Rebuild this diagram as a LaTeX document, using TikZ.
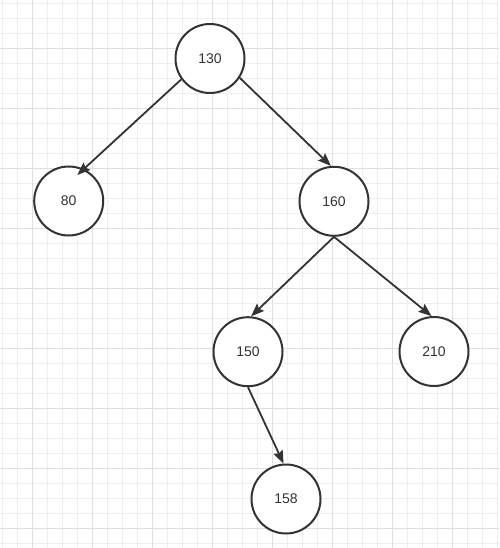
\documentclass[tikz,border=0pt]{standalone}
\usepackage{fontspec}
\setmainfont{Liberation Sans}
\usetikzlibrary{arrows.meta,calc}
\definecolor{minorgrid}{HTML}{EEEEEE}
\definecolor{majorgrid}{HTML}{DFDFDF}
\definecolor{ink}{HTML}{333333}
\begin{document}
\begin{tikzpicture}[x=1pt,y=-1pt,
  treenode/.style={circle,draw=ink,line width=2pt,minimum size=69pt,inner sep=0pt,
    text=ink,font=\fontsize{14}{16}\selectfont,fill=white},
  edge/.style={draw=ink,line width=1.8pt,-{Stealth[length=13pt,width=10pt,inset=2pt]}}]
\useasboundingbox (0,0) rectangle (499,548);
\fill[white] (0,0) rectangle (499,548);
% grid
\foreach \i in {0,...,33} {
  \draw[minorgrid,line width=1pt] ({2.3+15*\i},0) -- ({2.3+15*\i},548);
}
\foreach \i in {0,...,36} {
  \draw[minorgrid,line width=1pt] (0,{3.3+15*\i}) -- (499,{3.3+15*\i});
}
\foreach \i in {0,...,7} {
  \draw[majorgrid,line width=1pt] ({32.3+60*\i},0) -- ({32.3+60*\i},548);
}
\foreach \i in {0,...,8} {
  \draw[majorgrid,line width=1pt] (0,{48.3+60*\i}) -- (499,{48.3+60*\i});
}
% nodes
\node[treenode] (n130) at (210,58.5) {130};
\node[treenode] (n80) at (68.7,201) {80};
\node[treenode] (n160) at (334,201.3) {160};
\node[treenode] (n150) at (248,351.7) {150};
\node[treenode] (n210) at (434,351.5) {210};
\node[treenode] (n158) at (286,499) {158};
\coordinate (e80) at ($(n80.center)+(8.6,-26)$);
% edges
\draw[edge] (n130.216) -- (e80);
\draw[edge] (n130.-33) -- (n160.95);
\draw[edge] (n160.south) -- (n150.85);
\draw[edge] (n160.south) -- (n210.94);
\draw[edge] (n150.south) -- (n158.94);
\end{tikzpicture}
\end{document}
